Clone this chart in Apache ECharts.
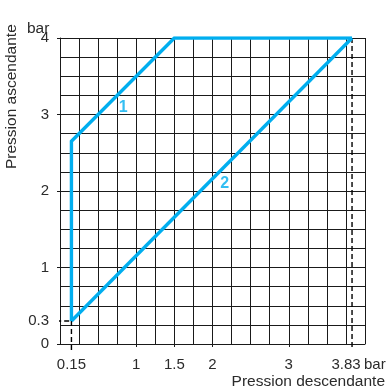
<!DOCTYPE html>
<html><head><meta charset="utf-8">
<script src="https://cdn.jsdelivr.net/npm/echarts@6/dist/echarts.min.js"></script>
<style>html,body{margin:0;padding:0;background:#fff}#c{width:388px;height:388px}</style>
</head><body><div id="c"></div>
<script>
// Data
const xTickValues = [0.15, 1, 1.5, 2, 3, 3.83];
const xTickLabels = ['0.15', '1', '1.5', '2', '3', '3.83'];
const yTickValues = [0, 0.3, 1, 2, 3, 4];
const yTickLabels = ['0', '0.3', '1', '2', '3', '4'];
const curve1 = [[0.15, 0.3], [0.15, 2.65], [1.5, 4], [3.83, 4]];
const curve2 = [[0.15, 0.3], [3.83, 4]];
const refV383 = [[3.83, 4], [3.83, -0.07]];
const refV015 = [[0.15, 0.3], [0.15, -0.08]];
const refH03 = [[-0.05, 0.3], [0.15, 0.3]];
const curveLabels = [{ name: '1', value: [0.83, 3.09] }, { name: '2', value: [2.16, 2.1] }];

const blue = '#00AEEF';
const ink = '#1a1a1a';
const txt = '#2b2b2b';
const font = 'Liberation Sans, Arial, sans-serif';
const chart = echarts.init(document.getElementById('c'), null, { renderer: 'canvas' });

const dashed = (d) => ({
  type: 'line', data: d, symbol: 'none', clip: false, silent: true, z: 3,
  lineStyle: { color: '#000', width: 1.4, type: [5, 3] }
});

chart.setOption({
  animation: false,
  grid: { left: 60, top: 38, right: 23, bottom: 44, containLabel: false },
  xAxis: [{
    type: 'value', min: 0, max: 4, interval: 0.25,
    axisLine: { show: true, lineStyle: { color: ink } },
    axisTick: { show: false }, axisLabel: { show: false },
    splitLine: { show: true, lineStyle: { color: ink, width: 1 } }
  }, {
    type: 'value', min: 0, max: 4, position: 'bottom',
    axisLine: { show: false }, splitLine: { show: false },
    axisTick: { show: true, customValues: xTickValues.filter(v => v !== 0.15 && v !== 3.83), length: 3, lineStyle: { color: ink } },
    axisLabel: {
      show: true, customValues: xTickValues, margin: 13, color: txt, fontSize: 15, fontFamily: font,
      formatter: (v) => {
        const i = xTickValues.findIndex(t => Math.abs(t - v) < 1e-6);
        const s = i >= 0 ? xTickLabels[i] : '';
        return s === '3.83' ? '{r|' + s + '}' : s;
      },
      rich: { r: { padding: [0, 12, 0, 0], fontSize: 15, color: txt, fontFamily: font } }
    }
  }],
  yAxis: [{
    type: 'value', min: 0, max: 4, interval: 0.25,
    axisLine: { show: true, lineStyle: { color: ink } },
    axisTick: { show: false }, axisLabel: { show: false },
    splitLine: { show: true, lineStyle: { color: ink, width: 1 } }
  }, {
    type: 'value', min: 0, max: 4, position: 'left',
    axisLine: { show: false }, splitLine: { show: false },
    axisTick: { show: true, customValues: yTickValues.filter(v => v !== 0.3), length: 3, lineStyle: { color: ink } },
    axisLabel: {
      show: true, customValues: yTickValues, margin: 11, color: txt, fontSize: 15, fontFamily: font,
      formatter: (v) => {
        const i = yTickValues.findIndex(t => Math.abs(t - v) < 1e-6);
        return i >= 0 ? yTickLabels[i] : '';
      }
    }
  }],
  graphic: [
    { type: 'text', left: 27, top: 21, style: { text: 'bar', font: '15.5px ' + font, fill: txt } },
    { type: 'text', x: 4, y: 169, rotation: Math.PI / 2, style: { text: 'Pression ascendante', font: '15.5px ' + font, fill: txt, textAlign: 'left', textVerticalAlign: 'top' } },
    { type: 'text', left: 364, top: 357, style: { text: 'bar', font: '15px ' + font, fill: txt } },
    { type: 'text', right: 3, top: 374, style: { text: 'Pression descendante', font: '15.5px ' + font, fill: txt } }
  ],
  series: [
    dashed(refV383), dashed(refV015), dashed(refH03),
    { type: 'line', data: curve1, symbol: 'none', z: 5, lineStyle: { color: blue, width: 3.4, join: 'miter' } },
    { type: 'line', data: curve2, symbol: 'none', z: 5, lineStyle: { color: blue, width: 3.4 } },
    {
      type: 'scatter', data: curveLabels, symbolSize: 0, z: 6,
      label: { show: true, position: 'inside', formatter: (p) => p.name, color: blue, fontWeight: 'bold', fontSize: 16, fontFamily: font }
    }
  ]
});
</script></body></html>
